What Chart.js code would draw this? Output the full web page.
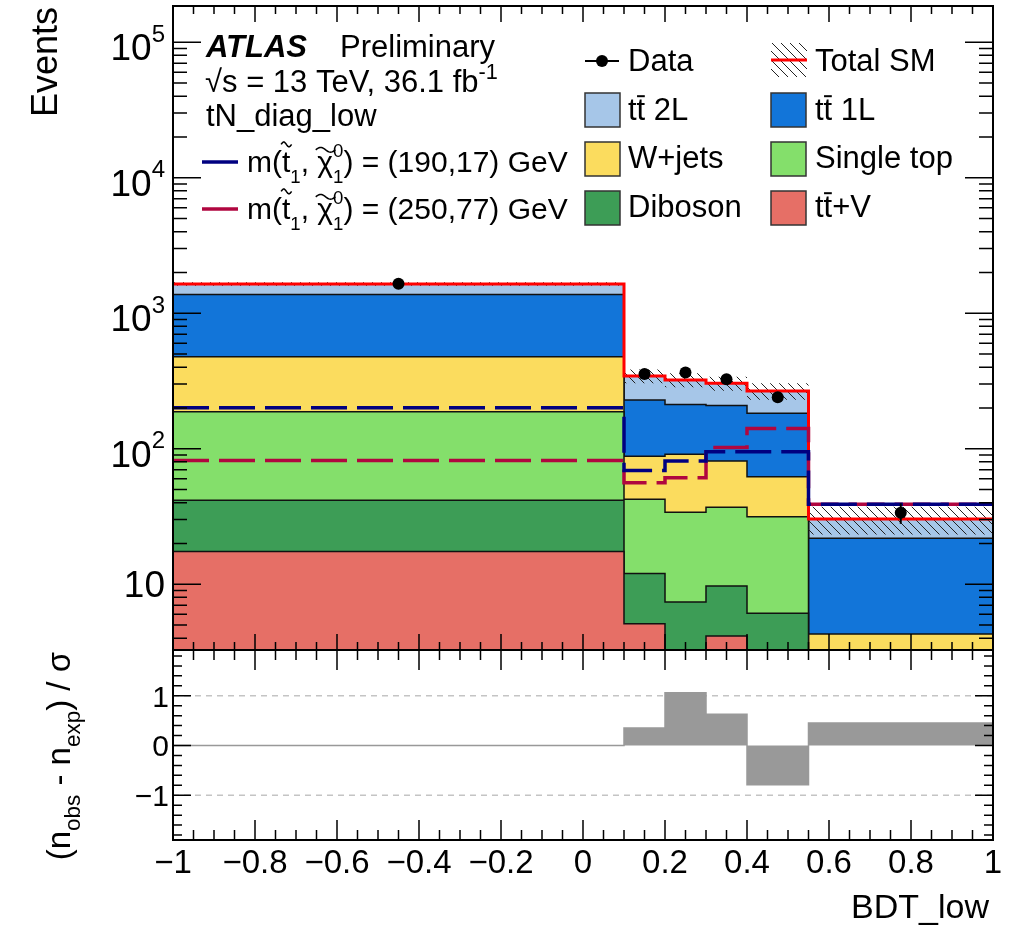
<!DOCTYPE html>
<html lang="en">
<head>
<meta charset="UTF-8">
<title>BDT_low</title>
<script src="https://cdn.jsdelivr.net/npm/chart.js@4.4.1/dist/chart.umd.min.js"></script>
<style>
  body { margin: 0; background: #fff; }
  #wrap { position: relative; width: 1013px; height: 929px; }
  #wrap canvas { position: absolute; left: 0; top: 0; }
</style>
</head>
<body>
<div id="wrap">
  <canvas id="main" width="1013" height="929"></canvas>
  <canvas id="pull" width="1013" height="929"></canvas>
</div>
<script>
// BDT_low binning
const binEdges = [-1, 0.1, 0.2, 0.3, 0.4, 0.55, 1];

// expected background per bin, stacked bottom to top
const ttV       = [17.4, 5.1, 2.0, 4.15, 1.5, 0.4];
const diboson   = [24.3, 6.9, 5.4, 5.55, 4.6, 0.3];
const singleTop = [146, 30.4, 26.6, 27.3, 25.4, 1.6];
const wJets     = [290, 45.6, 57, 44, 30.5, 2.0];
const ttbar1L   = [894, 141, 121, 127, 121, 17.5];
const ttbar2L   = [273, 115, 110, 96, 84, 8.5];
const totalUnc  = [50, 40, 38, 36, 37, 7];

const dataObs = [1650, 356, 365, 326, 240, 33.7];
const dataErr = [41, 19, 19, 18, 15.5, 5.8];

// signal points m(stop, neutralino)
const sig190_17 = [201, 69, 81, 95, 95, 39];
const sig250_77 = [82, 56, 61, 102, 141, 39];

// (n_obs - n_exp) / sigma
const pull = [0, 0.35, 1.06, 0.63, -0.79, 0.45];

const xTickLabels = [-1, -0.8, -0.6, -0.4, -0.2, 0, 0.2, 0.4, 0.6, 0.8, 1];
const yDecades = [1, 2, 3, 4, 5];
const pullTickLabels = [-1, 0, 1];

const FONT = '"Liberation Sans", Arial, Helvetica, sans-serif';
const fnt = (size, style) => ((style || '') + ' ' + size + 'px ' + FONT).trim();

function steps(vals) {
  return binEdges.map((x, i) => ({x: x, y: vals[Math.min(i, vals.length - 1)]}));
}
const centres = binEdges.slice(0, -1).map((x, i) => (x + binEdges[i + 1]) / 2);

function makeHatch(ctx) {
  const c = document.createElement('canvas');
  c.width = 9; c.height = 9;
  const g = c.getContext('2d');
  g.strokeStyle = '#222';
  g.lineWidth = 1;
  g.beginPath();
  g.moveTo(0, 0); g.lineTo(9, 9);
  g.moveTo(-1, 8); g.lineTo(1, 10);
  g.moveTo(8, -1); g.lineTo(10, 1);
  g.stroke();
  return ctx.createPattern(c, 'repeat');
}

function tilde(ctx, x0, yc, w, amp) {
  ctx.save();
  ctx.strokeStyle = ctx.fillStyle;
  ctx.lineWidth = Math.max(1.5, amp * 0.5);
  ctx.beginPath();
  for (let s = 0; s <= 24; s++) {
    const px = x0 + w * s / 24;
    const py = yc - amp * Math.sin(Math.PI * 2 * s / 24);
    if (s === 0) ctx.moveTo(px, py); else ctx.lineTo(px, py);
  }
  ctx.stroke();
  ctx.restore();
}

// text with sub/superscripts, tildes and overbars
function drawRich(ctx, parts, x, y, size, opt) {
  opt = opt || {};
  const align = opt.align || 'left';
  const small = size * (opt.small || 0.7);
  const supOff = size * (opt.sup || 0.45);
  const subOff = size * (opt.sub || 0.3);
  ctx.save();
  ctx.textAlign = 'left';
  ctx.textBaseline = 'alphabetic';
  ctx.fillStyle = '#000';
  const widths = parts.map(p => {
    if (p.k === 'ss') {
      ctx.font = fnt(small);
      return Math.max(ctx.measureText(p.sup).width, ctx.measureText(p.sub).width);
    }
    ctx.font = fnt(p.k === 'sup' || p.k === 'sub' ? small : size, p.st);
    return ctx.measureText(p.t).width;
  });
  const total = widths.reduce((a, b) => a + b, 0);
  let cx = align === 'right' ? x - total : align === 'center' ? x - total / 2 : x;
  parts.forEach((p, i) => {
    const w = widths[i];
    if (p.k === 'ss') {
      ctx.font = fnt(small);
      ctx.fillText(p.sup, cx, y - supOff);
      ctx.fillText(p.sub, cx, y + subOff);
    } else if (p.k === 'sup' || p.k === 'sub') {
      ctx.font = fnt(small);
      ctx.fillText(p.t, cx, p.k === 'sup' ? y - supOff : y + subOff);
    } else {
      ctx.font = fnt(size, p.st);
      ctx.fillText(p.t, cx, y);
      if (p.k === 'tilde') tilde(ctx, cx - w * 0.1, y - size * (p.h || 0.88), w * 1.25, size * 0.08);
      if (p.k === 'bar') ctx.fillRect(cx + w * 0.05, y - size * 0.8, w * 0.9, Math.max(2, size * 0.06));
    }
    cx += w;
  });
  ctx.restore();
  return total;
}

const ttParts = rest => [{t: 't'}, {t: 't', k: 'bar'}, {t: rest}];
const sigParts = txt => [
  {t: 'm('}, {t: 't', k: 'tilde', h: 0.92}, {t: '1', k: 'sub'}, {t: ', '},
  {t: 'χ', k: 'tilde', h: 0.74}, {k: 'ss', sup: '0', sub: '1'}, {t: txt}
];

const mainCtx = document.getElementById('main').getContext('2d');
const hatchFill = makeHatch(mainCtx);

const layers = [
  {label: 'ttV', vals: ttV, color: '#e66f66'},
  {label: 'Diboson', vals: diboson, color: '#3d9d56'},
  {label: 'Single top', vals: singleTop, color: '#84df6b'},
  {label: 'W+jets', vals: wJets, color: '#fbdc5e'},
  {label: 'ttbar 1L', vals: ttbar1L, color: '#1275d9'},
  {label: 'ttbar 2L', vals: ttbar2L, color: '#a6c6e8'}
];

let running = ttV.map(() => 0);
const datasets = layers.map((l, i) => {
  running = running.map((v, j) => v + l.vals[j]);
  return {
    label: l.label, data: steps(running), stepped: true,
    backgroundColor: l.color, borderColor: '#111', borderWidth: 1.5,
    fill: i === 0 ? 'start' : '-1', pointRadius: 0, order: 10
  };
});
const totalSM = running;

datasets.push({
  label: 'unc low', data: steps(totalSM.map((v, i) => v - totalUnc[i])), stepped: true,
  borderColor: 'rgba(0,0,0,0)', borderWidth: 1, fill: false, pointRadius: 0, order: 6
});
datasets.push({
  label: 'unc high', data: steps(totalSM.map((v, i) => v + totalUnc[i])), stepped: true,
  borderColor: 'rgba(0,0,0,0)', borderWidth: 1, backgroundColor: hatchFill,
  fill: '-1', pointRadius: 0, order: 6
});
datasets.push({
  label: 'Total SM', data: steps(totalSM), stepped: true,
  borderColor: '#ff0000', borderWidth: 3, fill: false, pointRadius: 0, order: 4
});
datasets.push({
  label: 'm(190,17)', data: steps(sig190_17), stepped: true,
  borderColor: '#000080', borderWidth: 3.5, borderDash: [36, 10], fill: false, pointRadius: 0, order: 3
});
datasets.push({
  label: 'm(250,77)', data: steps(sig250_77), stepped: true,
  borderColor: '#b0063f', borderWidth: 3.5, borderDash: [36, 10], fill: false, pointRadius: 0, order: 3
});
const dataIndex = datasets.length;
datasets.push({
  label: 'Data', data: centres.map((x, i) => ({x: x, y: dataObs[i]})),
  showLine: false, pointRadius: 6, pointBackgroundColor: '#000', pointBorderWidth: 0, order: 1
});

function legendBox(ctx, x, y, color) {
  ctx.fillStyle = color;
  ctx.fillRect(x, y, 35, 34);
  ctx.strokeStyle = '#333';
  ctx.lineWidth = 1.5;
  ctx.strokeRect(x, y, 35, 34);
}

function drawLegend(ctx) {
  ctx.save();
  drawRich(ctx, [{t: 'ATLAS', st: 'italic bold'}], 206, 57, 31);
  drawRich(ctx, [{t: 'Preliminary'}], 340, 57, 31);
  drawRich(ctx, [{t: '√s = 13 TeV, 36.1 fb'}, {t: '-1', k: 'sup'}], 205, 92, 31, {sup: 0.42});
  drawRich(ctx, [{t: 'tN_diag_low'}], 206, 126, 31);

  ctx.lineWidth = 3.5;
  ctx.strokeStyle = '#000080';
  ctx.beginPath(); ctx.moveTo(202, 162); ctx.lineTo(238, 162); ctx.stroke();
  drawRich(ctx, sigParts(') = (190,17) GeV'), 247, 172, 30, {small: 0.62, sup: 0.5, sub: 0.36});
  ctx.strokeStyle = '#b0063f';
  ctx.beginPath(); ctx.moveTo(202, 209); ctx.lineTo(238, 209); ctx.stroke();
  drawRich(ctx, sigParts(') = (250,77) GeV'), 247, 219, 30, {small: 0.62, sup: 0.5, sub: 0.36});

  // data marker
  ctx.strokeStyle = '#000';
  ctx.lineWidth = 2;
  ctx.beginPath(); ctx.moveTo(585, 61); ctx.lineTo(619, 61); ctx.stroke();
  ctx.fillStyle = '#000';
  ctx.beginPath(); ctx.arc(602, 61, 6, 0, Math.PI * 2); ctx.fill();
  drawRich(ctx, [{t: 'Data'}], 628, 71, 31);

  // total SM with uncertainty hatch
  ctx.fillStyle = hatchFill;
  ctx.fillRect(771, 43, 36, 34);
  ctx.strokeStyle = '#ff0000';
  ctx.lineWidth = 3;
  ctx.beginPath(); ctx.moveTo(771, 60); ctx.lineTo(807, 60); ctx.stroke();
  drawRich(ctx, [{t: 'Total SM'}], 815, 71, 31);

  legendBox(ctx, 585, 93, '#a6c6e8');
  drawRich(ctx, ttParts(' 2L'), 628, 120, 31);
  legendBox(ctx, 771, 93, '#1275d9');
  drawRich(ctx, ttParts(' 1L'), 815, 120, 31);
  legendBox(ctx, 585, 142, '#fbdc5e');
  drawRich(ctx, [{t: 'W+jets'}], 628, 168, 31);
  legendBox(ctx, 771, 142, '#84df6b');
  drawRich(ctx, [{t: 'Single top'}], 815, 168, 31);
  legendBox(ctx, 585, 191, '#3d9d56');
  drawRich(ctx, [{t: 'Diboson'}], 628, 217, 31);
  legendBox(ctx, 771, 191, '#e66f66');
  drawRich(ctx, ttParts('+V'), 815, 217, 31);
  ctx.restore();
}

const mainAxes = {
  id: 'mainAxes',
  afterDatasetsDraw(chart) {
    const ctx = chart.ctx, ys = chart.scales.y;
    const meta = chart.getDatasetMeta(dataIndex);
    ctx.save();
    ctx.strokeStyle = '#000';
    ctx.lineWidth = 2;
    meta.data.forEach((pt, i) => {
      ctx.beginPath();
      ctx.moveTo(pt.x, ys.getPixelForValue(dataObs[i] - dataErr[i]));
      ctx.lineTo(pt.x, ys.getPixelForValue(dataObs[i] + dataErr[i]));
      ctx.stroke();
    });
    ctx.restore();
  },
  afterDraw(chart) {
    const ctx = chart.ctx, a = chart.chartArea;
    const xs = chart.scales.x, ys = chart.scales.y;
    ctx.save();
    ctx.strokeStyle = '#000';
    ctx.lineWidth = 1.5;
    ctx.beginPath();
    for (let i = 0; i <= 40; i++) {
      const px = xs.getPixelForValue(-1 + i * 0.05);
      const len = i % 4 === 0 ? 16 : 8;
      ctx.moveTo(px, a.bottom); ctx.lineTo(px, a.bottom - len);
      ctx.moveTo(px, a.top); ctx.lineTo(px, a.top + len);
    }
    for (let e = 0; e <= 5; e++) {
      for (let k = 1; k <= 9; k++) {
        const v = k * Math.pow(10, e);
        if (v < ys.min || v > ys.max) continue;
        const py = ys.getPixelForValue(v);
        const len = k === 1 ? 28 : 14;
        ctx.moveTo(a.left, py); ctx.lineTo(a.left + len, py);
        ctx.moveTo(a.right, py); ctx.lineTo(a.right - len, py);
      }
    }
    ctx.stroke();
    ctx.lineWidth = 2;
    ctx.strokeRect(a.left, a.top, a.right - a.left, a.bottom - a.top);

    yDecades.forEach(d => {
      const py = ys.getPixelForValue(Math.pow(10, d));
      if (d === 1) drawRich(ctx, [{t: '10'}], 165, py + 13, 37, {align: 'right'});
      else drawRich(ctx, [{t: '10'}, {t: String(d), k: 'sup'}], 165, py + 18, 37,
        {align: 'right', small: 0.65, sup: 0.5});
    });

    ctx.save();
    ctx.translate(57, 7);
    ctx.rotate(-Math.PI / 2);
    drawRich(ctx, [{t: 'Events'}], 0, 0, 36, {align: 'right'});
    ctx.restore();

    drawLegend(ctx);
    ctx.restore();
  }
};

new Chart(mainCtx, {
  type: 'line',
  data: {datasets: datasets},
  options: {
    responsive: false,
    animation: false,
    devicePixelRatio: 1,
    events: [],
    layout: {padding: {left: 173, right: 20, top: 6, bottom: 279}},
    scales: {
      x: {type: 'linear', min: -1, max: 1, display: false},
      y: {type: 'logarithmic', min: 3.27, max: 185000, display: false}
    },
    plugins: {legend: {display: false}, tooltip: {enabled: false}, filler: {propagate: false}}
  },
  plugins: [mainAxes]
});

const pullAxes = {
  id: 'pullAxes',
  beforeDatasetsDraw(chart) {
    const ctx = chart.ctx, a = chart.chartArea, ys = chart.scales.y;
    ctx.save();
    ctx.strokeStyle = '#c4c4c4';
    ctx.lineWidth = 1.5;
    ctx.setLineDash([6, 5]);
    [-1, 1].forEach(v => {
      const py = ys.getPixelForValue(v);
      ctx.beginPath(); ctx.moveTo(a.left, py); ctx.lineTo(a.right, py); ctx.stroke();
    });
    ctx.restore();
  },
  afterDraw(chart) {
    const ctx = chart.ctx, a = chart.chartArea;
    const xs = chart.scales.x, ys = chart.scales.y;
    ctx.save();
    ctx.strokeStyle = '#000';
    ctx.lineWidth = 1.5;
    ctx.beginPath();
    for (let i = 0; i <= 40; i++) {
      const px = xs.getPixelForValue(-1 + i * 0.05);
      const len = i % 4 === 0 ? 20 : 10;
      ctx.moveTo(px, a.bottom); ctx.lineTo(px, a.bottom - len);
      ctx.moveTo(px, a.top); ctx.lineTo(px, a.top + len);
    }
    for (let i = -9; i <= 9; i++) {
      const v = i * 0.2;
      if (v < ys.min || v > ys.max) continue;
      const py = ys.getPixelForValue(v);
      const len = i % 5 === 0 ? 18 : 9;
      ctx.moveTo(a.left, py); ctx.lineTo(a.left + len, py);
      ctx.moveTo(a.right, py); ctx.lineTo(a.right - len, py);
    }
    ctx.stroke();
    ctx.lineWidth = 2;
    ctx.strokeRect(a.left, a.top, a.right - a.left, a.bottom - a.top);

    const fmt = v => (v === 0 ? '0' : String(v)).replace('-', '−');
    xTickLabels.forEach(v => {
      drawRich(ctx, [{t: fmt(v)}], xs.getPixelForValue(v), a.bottom + 33, 33, {align: 'center'});
    });
    pullTickLabels.forEach(v => {
      drawRich(ctx, [{t: fmt(v)}], 169, ys.getPixelForValue(v) + 11, 30, {align: 'right'});
    });
    drawRich(ctx, [{t: 'BDT_low'}], 989, 918, 34, {align: 'right'});

    ctx.save();
    ctx.translate(70, 652);
    ctx.rotate(-Math.PI / 2);
    drawRich(ctx, [{t: '(n'}, {t: 'obs', k: 'sub'}, {t: ' - n'}, {t: 'exp', k: 'sub'}, {t: ') / σ'}],
      0, 0, 33, {align: 'right', small: 0.68, sub: 0.3});
    ctx.restore();
    ctx.restore();
  }
};

new Chart(document.getElementById('pull').getContext('2d'), {
  type: 'line',
  data: {
    datasets: [{
      label: 'pull', data: steps(pull), stepped: true,
      backgroundColor: '#999999', borderColor: '#999999', borderWidth: 1.5,
      fill: 'origin', pointRadius: 0
    }]
  },
  options: {
    responsive: false,
    animation: false,
    devicePixelRatio: 1,
    events: [],
    layout: {padding: {left: 173, right: 20, top: 650, bottom: 89}},
    scales: {
      x: {type: 'linear', min: -1, max: 1, display: false},
      y: {type: 'linear', min: -1.9, max: 1.92, display: false}
    },
    plugins: {legend: {display: false}, tooltip: {enabled: false}}
  },
  plugins: [pullAxes]
});
</script>
</body>
</html>
